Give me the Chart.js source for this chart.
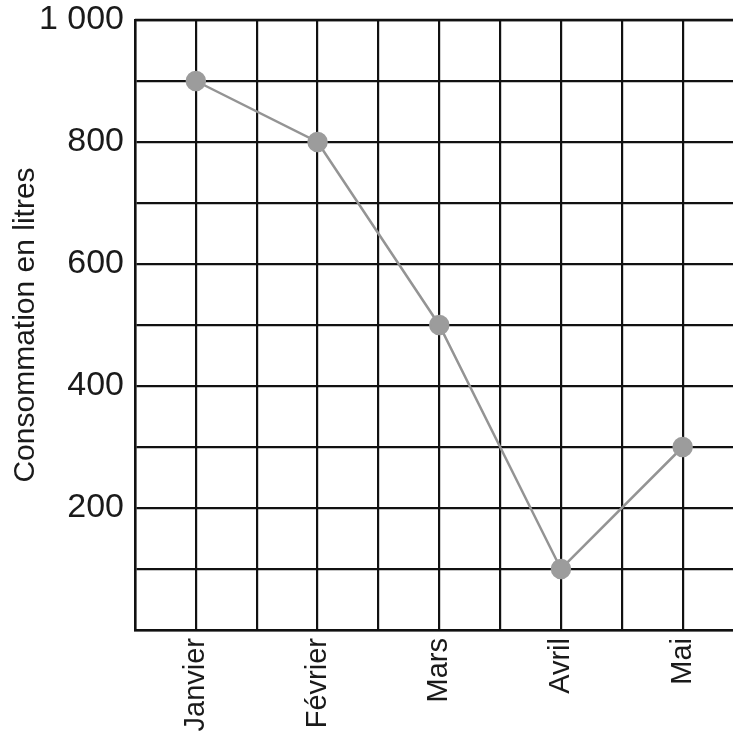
<!DOCTYPE html>
<html lang="fr">
<head>
<meta charset="utf-8">
<title>Consommation en litres</title>
<script src="https://cdn.jsdelivr.net/npm/chart.js@4/dist/chart.umd.min.js"></script>
<style>
    html, body { margin: 0; padding: 0; background: #fff; overflow: hidden; }
    #wrap { width: 733px; height: 731px; overflow: hidden; }
    #wrap canvas { display: block; }
</style>
</head>
<body>
<div id="wrap"><canvas id="consoChart" width="755" height="731"></canvas></div>
<script>
// Données
const mois = ['Janvier', 'Février', 'Mars', 'Avril', 'Mai'];
const consommation = [900, 800, 500, 100, 300];
const yGraduations = [200, 400, 600, 800, 1000];

const police = "'Liberation Sans', Arial, sans-serif";

// Chaque mois occupe deux carreaux : position 1, 3, 5, 7, 9
const points = mois.map((m, i) => ({ x: 2 * i + 1, y: consommation[i] }));

function formatFr(v) {
    return v.toLocaleString('fr-FR').replace(/\u202f|\u00a0/g, ' ');
}

const ctx = document.getElementById('consoChart').getContext('2d');

new Chart(ctx, {
    type: 'line',
    data: {
        datasets: [{
            label: 'Consommation',
            data: points,
            borderColor: '#949494',
            borderWidth: 2.5,
            pointBackgroundColor: '#9c9c9c',
            pointBorderColor: '#9c9c9c',
            pointRadius: 9,
            tension: 0
        }]
    },
    options: {
        responsive: false,
        animation: false,
        layout: { padding: { top: 20, right: 0, bottom: 0, left: 0 } },
        plugins: {
            legend: { display: false },
            tooltip: { enabled: false }
        },
        scales: {
            x: {
                type: 'linear',
                min: 0,
                max: 10,
                grid: { color: '#111', lineWidth: 2.2, drawTicks: false },
                border: { color: '#111', width: 2.5 },
                ticks: {
                    stepSize: 1,
                    autoSkip: false,
                    minRotation: 90,
                    maxRotation: 90,
                    padding: 8,
                    color: '#1a1a1a',
                    font: { family: police, size: 29 },
                    callback: function(v) {
                        return v % 2 === 1 ? mois[(v - 1) / 2] : '';
                    }
                },
                afterFit: function(scale) {
                    scale.height = 101;
                    scale.paddingLeft = 0;
                    scale.paddingRight = 0;
                }
            },
            y: {
                min: 0,
                max: 1000,
                grid: { color: '#111', lineWidth: 2.2, drawTicks: false },
                border: { color: '#111', width: 2.5 },
                ticks: {
                    stepSize: 100,
                    padding: 11,
                    color: '#1a1a1a',
                    font: { family: police, size: 34 },
                    callback: function(v) {
                        return yGraduations.includes(v) ? formatFr(v) : '';
                    }
                },
                title: {
                    display: true,
                    text: 'Consommation en litres',
                    color: '#1a1a1a',
                    font: { family: police, size: 30 },
                    padding: { top: 8, bottom: 0 }
                },
                afterFit: function(scale) {
                    scale.width = 135;
                    scale.paddingTop = 0;
                    scale.paddingBottom = 0;
                }
            }
        }
    },
    plugins: [{
        id: 'cadreHaut',
        afterDraw: function(chart) {
            const a = chart.chartArea;
            const c = chart.ctx;
            c.save();
            c.strokeStyle = '#111';
            c.lineWidth = 2.5;
            c.beginPath();
            c.moveTo(a.left, a.top);
            c.lineTo(a.right, a.top);
            c.stroke();
            c.restore();
        }
    }]
});
</script>
</body>
</html>
